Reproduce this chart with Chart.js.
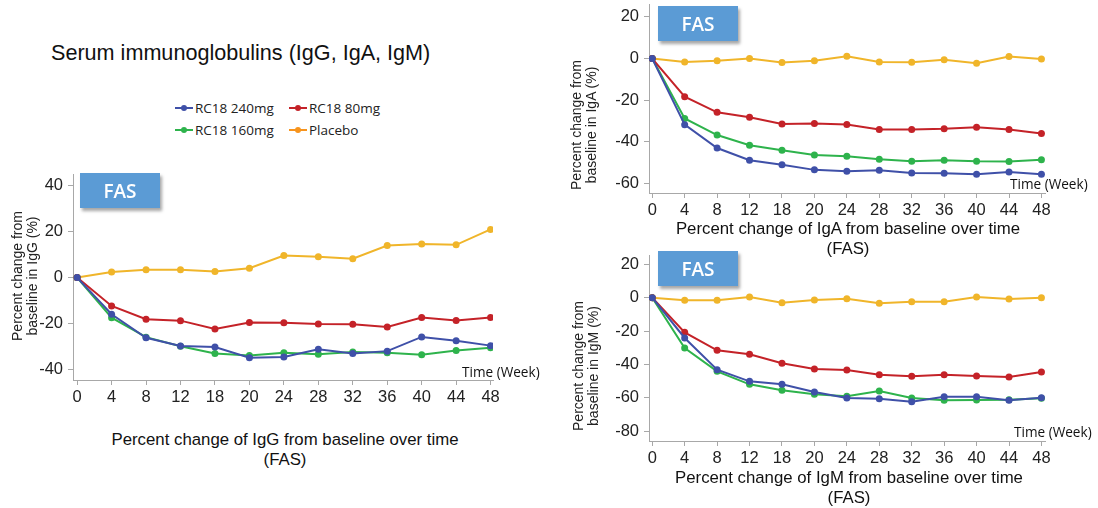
<!DOCTYPE html>
<html>
<head>
<meta charset="utf-8">
<script src="https://cdn.jsdelivr.net/npm/chart.js@4.4.0/dist/chart.umd.min.js"></script>
<style>
  body { margin: 0; width: 1098px; height: 508px; background: #fff; position: relative; overflow: hidden;
         font-family: "Liberation Sans", Arial, sans-serif; color: #111; }
  .wrap { position: absolute; }
  .title { position: absolute; left: 51px; top: 40px; font-size: 21.6px; white-space: nowrap; }
  .box { position: absolute; width: 80px; height: 35px; background: #5b9bd5; color: #fff;
         font-family: "Open Sans", sans-serif; font-weight: 600; font-size: 19px;
         display: flex; align-items: center; justify-content: center;
         box-shadow: 2px 3px 3px rgba(0,0,0,0.35); }
  .ytitle { position: absolute; width: 160px; height: 30px; text-align: center; font-size: 14px;
            line-height: 15px; color: #222; transform: rotate(-90deg); white-space: nowrap; }
  .xtitle { position: absolute; width: 420px; text-align: center; font-size: 16.8px; line-height: 20px; white-space: nowrap; }
  .week { position: absolute; font-family: "Open Sans", sans-serif; font-size: 13.6px; line-height: 16px; white-space: nowrap; }
  .leg { position: absolute; height: 20px; display: flex; align-items: center;
         font-family: "Open Sans", sans-serif; font-size: 13.5px; color: #222; white-space: nowrap; }
  .mark { position: relative; width: 18px; height: 2px; margin-right: 2px; }
  .mark i { position: absolute; left: 6px; top: -2px; width: 6px; height: 6px; border-radius: 50%; }
</style>
</head>
<body>
<div class="title">Serum immunoglobulins (IgG, IgA, IgM)</div>
<div id="legend"></div>

<div class="wrap" style="left:0px; top:162px;"><canvas id="igg" width="550" height="253"></canvas></div>
<div class="wrap" style="left:560px; top:0px;"><canvas id="iga" width="538" height="223"></canvas></div>
<div class="wrap" style="left:560px; top:250px;"><canvas id="igm" width="538" height="221"></canvas></div>

<div class="box" style="left:80px; top:173px;">FAS</div>
<div class="box" style="left:658px; top:6px;">FAS</div>
<div class="box" style="left:658px; top:251px;">FAS</div>

<div class="ytitle" style="left:-55px; top:261px;">Percent change from<br>baseline in IgG (%)</div>
<div class="ytitle" style="left:504px; top:110px;">Percent change from<br>baseline in IgA (%)</div>
<div class="ytitle" style="left:506px; top:351px;">Percent change from<br>baseline in IgM (%)</div>

<div class="week" style="left:462px; top:364px;">Time (Week)</div>
<div class="week" style="left:1010px; top:176px;">Time (Week)</div>
<div class="week" style="left:1014px; top:424px;">Time (Week)</div>

<div class="xtitle" style="left:75px; top:430px;">Percent change of IgG from baseline over time<br>(FAS)</div>
<div class="xtitle" style="left:638px; top:219px;">Percent change of IgA from baseline over time<br>(FAS)</div>
<div class="xtitle" style="left:639px; top:468px;">Percent change of IgM from baseline over time<br>(FAS)</div>

<script>
var weeks = ["0", "4", "8", "12", "18", "20", "24", "28", "32", "36", "40", "44", "48"];
var seriesNames = ["RC18 240mg", "RC18 80mg", "RC18 160mg", "Placebo"];
var seriesColors = ["#3f50a8", "#c42228", "#2eb34c", "#f0b52a"];
var legendColors = ["#3f50a8", "#c42228", "#2eb34c", "#f7941d"];

// IgG, % change from baseline
var igg240 = [0, -16.0, -26.3, -29.9, -30.3, -35.0, -34.7, -31.3, -33.1, -32.1, -25.9, -27.6, -29.7];
var igg80 = [0, -12.4, -18.2, -18.8, -22.4, -19.6, -19.7, -20.3, -20.4, -21.6, -17.4, -18.7, -17.4];
var igg160 = [0, -17.5, -26.0, -30.0, -33.1, -34.0, -32.8, -33.5, -32.5, -32.8, -33.7, -31.8, -30.6];
var iggPbo = [0, 2.4, 3.4, 3.4, 2.6, 4.1, 9.6, 9.1, 8.2, 14.0, 14.6, 14.3, 21.0];

// IgA
var iga240 = [0, -31.7, -42.9, -48.8, -50.9, -53.4, -54.1, -53.6, -54.9, -55.0, -55.5, -54.4, -55.5];
var iga80 = [0, -18.3, -25.8, -28.1, -31.4, -31.1, -31.6, -34.0, -34.0, -33.7, -33.0, -34.0, -35.9];
var iga160 = [0, -28.7, -36.7, -41.6, -44.0, -46.3, -46.9, -48.3, -49.3, -48.8, -49.3, -49.4, -48.5];
var igaPbo = [0, -1.6, -1.0, 0, -1.9, -1.0, 1.1, -1.6, -1.8, -0.6, -2.2, 1.0, -0.2];

// IgM
var igm240 = [0, -24.2, -43.2, -50.2, -52.0, -56.6, -60.2, -60.6, -62.4, -59.4, -59.4, -61.6, -60.0];
var igm80 = [0, -20.8, -31.6, -34.0, -39.4, -42.8, -43.4, -46.2, -47.2, -46.2, -47.0, -47.6, -44.6];
var igm160 = [0, -30.2, -44.2, -52.0, -55.6, -58.0, -59.2, -56.0, -60.2, -61.6, -61.4, -61.2, -60.4];
var igmPbo = [0, -1.6, -1.6, 0.4, -3.0, -1.4, -0.6, -3.4, -2.4, -2.4, 0.4, -0.8, 0];

var iggTicks = [-40, -20, 0, 20, 40];
var igaTicks = [-60, -40, -20, 0, 20];
var igmTicks = [-80, -60, -40, -20, 0, 20];

// legend
var legend = document.getElementById("legend");
seriesNames.forEach(function (name, k) {
  var col = k % 2, row = Math.floor(k / 2);
  var d = document.createElement("div");
  d.className = "leg";
  d.style.left = (175 + col * 114) + "px";
  d.style.top = (98 + row * 21.5) + "px";
  d.innerHTML = '<span class="mark" style="background:' + legendColors[k] + '"><i style="background:' +
    legendColors[k] + '"></i></span>' + name;
  legend.appendChild(d);
});

var tickFont = { family: "'Liberation Sans', Arial, sans-serif", size: 16.5 };

function makeChart(id, sets, yMin, yMax, yTicks, xMin, xMax, pad, yWidth, xHeight) {
  return new Chart(document.getElementById(id), {
    type: "line",
    data: {
      datasets: sets.map(function (vals, k) {
        return {
          label: seriesNames[k],
          data: vals.map(function (v, i) { return { x: i, y: v }; }),
          borderColor: seriesColors[k],
          backgroundColor: seriesColors[k],
          borderWidth: 2,
          pointRadius: 3.5,
          pointBorderWidth: 0,
          tension: 0
        };
      })
    },
    options: {
      responsive: false,
      animation: false,
      devicePixelRatio: 1,
      layout: { padding: pad },
      plugins: { legend: { display: false }, tooltip: { enabled: false } },
      scales: {
        x: {
          type: "linear",
          min: xMin,
          max: xMax,
          afterBuildTicks: function (s) { s.ticks = weeks.map(function (w, i) { return { value: i }; }); },
          afterFit: function (s) { s.height = xHeight; s.paddingLeft = 0; s.paddingRight = 0; },
          ticks: { callback: function (v) { return weeks[v]; }, autoSkip: false, maxRotation: 0,
                   padding: 3, color: "#222", font: tickFont },
          grid: { drawOnChartArea: false, tickLength: 5, color: "#a8a8a8" },
          border: { color: "#a8a8a8" }
        },
        y: {
          min: yMin,
          max: yMax,
          afterBuildTicks: function (s) { s.ticks = yTicks.map(function (v) { return { value: v }; }); },
          afterFit: function (s) { s.width = yWidth; s.paddingTop = 0; s.paddingBottom = 0; },
          ticks: { padding: 5, color: "#222", font: tickFont },
          grid: { drawOnChartArea: false, tickLength: 5, color: "#a8a8a8" },
          border: { color: "#a8a8a8" }
        }
      }
    }
  });
}

makeChart("igg", [igg240, igg80, igg160, iggPbo], -44.7, 45.2, iggTicks, -0.12, 12.07,
  { top: 12, right: 57, left: 0, bottom: 0 }, 73, 35);
makeChart("iga", [iga240, iga80, iga160, igaPbo], -64.5, 26.2, igaTicks, -0.1, 12.11,
  { top: 3, right: 53, left: 0, bottom: 0 }, 89, 30);
makeChart("igm", [igm240, igm80, igm160, igmPbo], -86, 25.6, igmTicks, -0.1, 12.11,
  { top: 5, right: 53, left: 0, bottom: 0 }, 89, 30);
</script>
</body>
</html>
